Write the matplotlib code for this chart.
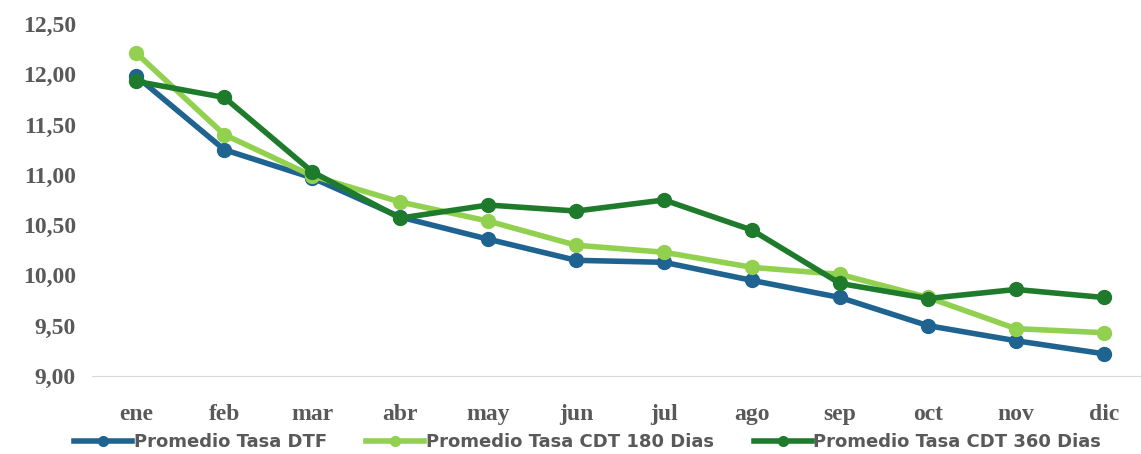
import matplotlib.pyplot as plt
from matplotlib.ticker import FuncFormatter

meses = ['ene', 'feb', 'mar', 'abr', 'may', 'jun', 'jul', 'ago', 'sep', 'oct', 'nov', 'dic']
dtf = [11.98, 11.25, 10.97, 10.58, 10.36, 10.15, 10.13, 9.95, 9.78, 9.50, 9.35, 9.22]
cdt180 = [12.21, 11.40, 10.99, 10.73, 10.54, 10.30, 10.23, 10.08, 10.01, 9.78, 9.47, 9.43]
cdt360 = [11.93, 11.77, 11.03, 10.57, 10.70, 10.64, 10.75, 10.45, 9.92, 9.77, 9.86, 9.78]

fig = plt.figure(figsize=(11.41, 4.54), dpi=100)
ax = fig.add_axes([0.081, 0.172, 0.925, 0.775])

x = range(len(meses))
ax.plot(x, dtf, color='#1F6391', lw=4, marker='o', ms=10, label='Promedio Tasa DTF')
ax.plot(x, cdt180, color='#92D050', lw=4, marker='o', ms=10, label='Promedio Tasa CDT 180 Dias')
ax.plot(x, cdt360, color='#1E7B2C', lw=4, marker='o', ms=10, label='Promedio Tasa CDT 360 Dias')

ax.set_ylim(9, 12.5)
ax.set_xlim(-0.5, 11.5)
ax.set_yticks([9, 9.5, 10, 10.5, 11, 11.5, 12, 12.5])
ax.yaxis.set_major_formatter(FuncFormatter(lambda v, p: f'{v:.2f}'.replace('.', ',')))
ax.set_xticks(list(x))
ax.set_xticklabels(meses)

for s in ['top', 'right', 'left']:
    ax.spines[s].set_visible(False)
ax.spines['bottom'].set_color('#D9D9D9')
ax.tick_params(length=0)
ax.tick_params(axis='x', pad=20)
ax.tick_params(axis='y', pad=12)
for lab in ax.get_xticklabels() + ax.get_yticklabels():
    lab.set_family('Liberation Serif')
    lab.set_fontweight('bold')
    lab.set_fontsize(17)
    lab.set_color('#595959')

leg = fig.legend(loc='lower center', bbox_to_anchor=(0.515, -0.03), ncol=3, frameon=False,
                 prop={'family': 'DejaVu Sans', 'weight': 'bold', 'size': 13},
                 handlelength=3.2, columnspacing=2.2, handletextpad=0.1, markerscale=0.7)
for t in leg.get_texts():
    t.set_color('#595959')

fig.savefig('out.png', dpi=100)
